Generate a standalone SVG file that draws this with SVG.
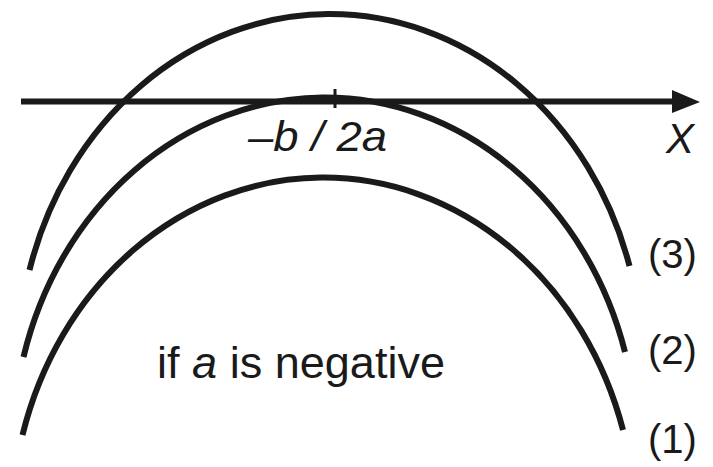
<svg xmlns="http://www.w3.org/2000/svg" width="713" height="467" viewBox="0 0 713 467">
<defs>
<style>
.curve{fill:none;stroke:#1a1a1a;stroke-width:6;stroke-linecap:butt}
.axis{fill:none;stroke:#1a1a1a;stroke-width:6}
.t{font-family:"Liberation Sans",Arial,sans-serif;fill:#1a1a1a}
.i{font-style:italic}
</style>
</defs>
<rect width="713" height="467" fill="#ffffff"/>
<g id="curves">
<path id="curve3" class="curve" d="M 29.5 270 A 312 350 0 0 1 629.5 266"/>
<path id="curve2" class="curve" d="M 23.5 357 A 312 350 0 0 1 625 352"/>
<path id="curve1" class="curve" d="M 22.5 435 A 312 350 0 0 1 623 430"/>
</g>
<g id="axis">
<line class="axis" x1="21" y1="101.5" x2="676" y2="101.5"/>
<polygon points="700,102 672,90 672,113" fill="#1a1a1a"/>
<line x1="335" y1="89" x2="335" y2="108" stroke="#1a1a1a" stroke-width="3"/>
</g>
<g id="labels">
<text class="t i" x="248" y="151" font-size="43" textLength="139" lengthAdjust="spacingAndGlyphs">–b / 2a</text>
<text class="t i" x="666" y="153" font-size="42">X</text>
<text class="t" x="157" y="378" font-size="44" textLength="288" lengthAdjust="spacingAndGlyphs">if <tspan class="i">a</tspan> is negative</text>
<text class="t" x="648" y="268" font-size="40">(3)</text>
<text class="t" x="648" y="364" font-size="40">(2)</text>
<text class="t" x="648" y="453" font-size="40">(1)</text>
</g>
</svg>
